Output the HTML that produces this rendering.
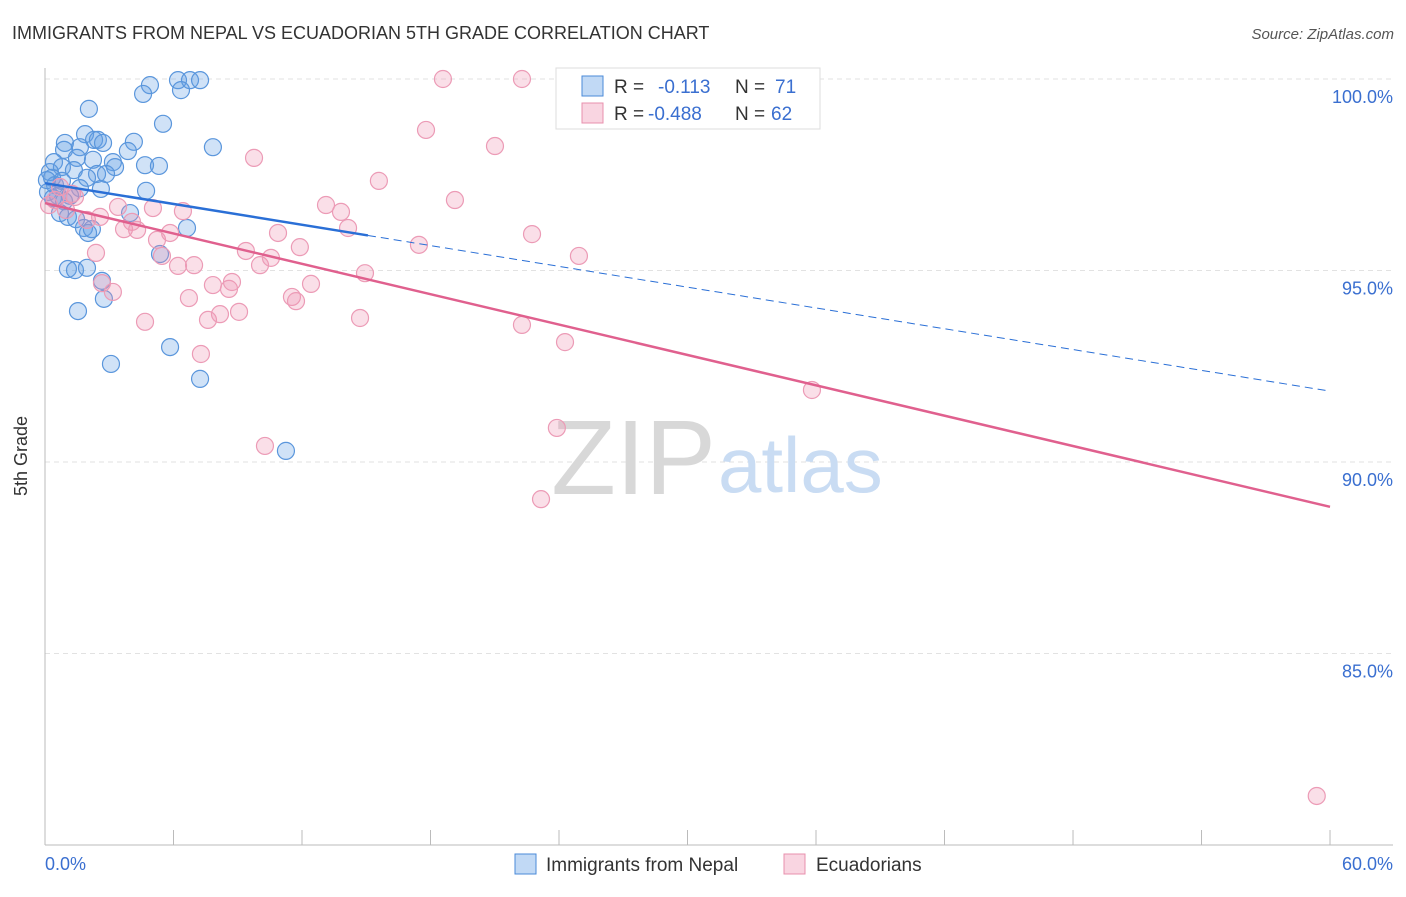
<!DOCTYPE html>
<html><head><meta charset="utf-8"><style>
body{margin:0;background:#fff;font-family:"Liberation Sans",sans-serif}
svg text{font-family:"Liberation Sans",sans-serif}
</style></head><body>
<svg id="chart" width="1406" height="892" viewBox="0 0 1406 892">
<text x="12" y="39" font-size="18" fill="#333">IMMIGRANTS FROM NEPAL VS ECUADORIAN 5TH GRADE CORRELATION CHART</text>
<text x="1394" y="39" font-size="15" fill="#555" font-style="italic" text-anchor="end">Source: ZipAtlas.com</text>
<g id="grid"></g>
<g id="ticks"></g>
<text x="716" y="494" font-size="106" fill="#d8d8d8" font-family="Liberation Serif" text-anchor="end">ZIP</text>
<text x="718" y="492" font-size="78" fill="#c9dcf3">atlas</text>
<line x1="45" y1="68" x2="45" y2="845" stroke="#bbb"/>
<line x1="45" y1="845" x2="1393" y2="845" stroke="#bbb"/>
<g id="xticks"></g>
<text x="27" y="456" font-size="18" fill="#333" text-anchor="middle" transform="rotate(-90 27 456)">5th Grade</text>
<text x="45" y="870" font-size="18" fill="#3a6fd0">0.0%</text>
<text x="1393" y="870" font-size="18" fill="#3a6fd0" text-anchor="end">60.0%</text>
<g id="pts"></g>
<g id="lines"></g>
<g>
<rect x="556" y="68" width="264" height="61" fill="#fff" stroke="#ddd"/>
<rect x="582" y="76" width="21" height="20" fill="rgba(100,160,230,0.4)" stroke="#4a8ad8"/>
<text x="614" y="93" font-size="19" fill="#333">R =</text>
<text x="658" y="93" font-size="19" fill="#3a6fd0">-0.113</text>
<text x="735" y="93" font-size="19" fill="#333">N =</text>
<text x="775" y="93" font-size="19" fill="#3a6fd0">71</text>
<rect x="582" y="103" width="21" height="20" fill="rgba(240,150,180,0.4)" stroke="#e890ad"/>
<text x="614" y="120" font-size="19" fill="#333">R =</text>
<text x="648" y="120" font-size="19" fill="#3a6fd0">-0.488</text>
<text x="735" y="120" font-size="19" fill="#333">N =</text>
<text x="771" y="120" font-size="19" fill="#3a6fd0">62</text>
</g>
<g>
<rect x="515" y="854" width="21" height="20" fill="rgba(100,160,230,0.4)" stroke="#4a8ad8"/>
<text x="546" y="871" font-size="19" fill="#333">Immigrants from Nepal</text></g>
<g>
<rect x="784" y="854" width="21" height="20" fill="rgba(240,150,180,0.4)" stroke="#e890ad"/>
<text x="816" y="871" font-size="19" fill="#333">Ecuadorians</text></g>
</svg>
<script>
const yTicks=[100,95,90,85];
const yTickLabels=["100.0%","95.0%","90.0%","85.0%"];
const xTicks=[0,6,12,18,24,30,36,42,48,54,60];
const nepalX=[4.90,4.58,6.21,6.77,7.24,6.35,2.05,5.51,7.84,0.93,1.87,2.29,2.47,2.71,4.15,1.63,0.89,3.87,0.42,1.49,2.24,3.17,4.67,5.32,3.27,0.79,1.35,0.23,2.43,2.85,1.96,0.33,0.47,1.63,2.61,4.72,0.14,0.61,1.17,0.37,0.89,0.70,1.07,1.45,3.97,1.82,2.01,2.19,6.63,5.37,1.07,1.40,1.96,2.66,2.75,1.54,3.08,5.84,7.24,11.25,0.79,0.09];
const nepalY=[99.84,99.61,99.97,99.97,99.97,99.71,99.22,98.83,98.22,98.33,98.56,98.41,98.41,98.33,98.36,98.22,98.15,98.12,97.83,97.94,97.89,97.83,97.75,97.73,97.70,97.70,97.62,97.57,97.52,97.52,97.42,97.42,97.23,97.15,97.13,97.08,97.05,96.95,96.95,96.89,96.81,96.50,96.40,96.34,96.50,96.11,95.98,96.08,96.11,95.43,95.04,95.01,95.07,94.73,94.26,93.94,92.56,93.00,92.17,90.29,97.34,97.36];
const ecuX=[18.58,22.27,17.79,21.01,9.76,15.59,19.14,13.12,13.82,14.15,22.74,10.88,11.90,17.46,24.93,9.38,6.44,5.04,3.41,4.06,3.69,4.30,5.23,5.84,5.46,6.21,6.96,2.38,2.66,3.17,6.72,7.84,8.59,8.73,10.04,10.55,11.53,11.72,12.42,14.94,7.61,8.17,9.06,4.67,7.28,14.71,22.27,24.28,35.81,23.90,10.27,23.16,59.38,0.70,0.47,1.26,0.98,1.96,0.19,1.40,2.57];
const ecuY=[100,100,98.67,98.25,97.94,97.34,96.84,96.71,96.53,96.11,95.95,95.98,95.61,95.67,95.38,95.51,96.55,96.63,96.66,96.27,96.08,96.06,95.80,95.98,95.38,95.12,95.14,95.46,94.67,94.44,94.28,94.62,94.52,94.70,95.14,95.33,94.31,94.20,94.65,94.93,93.71,93.86,93.92,93.66,92.82,93.76,93.58,93.13,91.88,90.89,90.42,89.03,81.28,97.18,96.84,97.00,96.58,96.32,96.71,96.92,96.40];
const nepalTrend=[97.28,91.85];
const ecuTrend=[96.76,88.83];
const nepalSolidEnd=15.08;
const NS="http://www.w3.org/2000/svg";
const sx=v=>45+v*21.417, sy=v=>79+(100-v)*38.3;
function mk(tag,attrs,parent){const e=document.createElementNS(NS,tag);for(const k in attrs)e.setAttribute(k,attrs[k]);parent.appendChild(e);return e;}
const grid=document.getElementById('grid'),ticks=document.getElementById('ticks');
yTicks.forEach((t,i)=>{
 const l=mk('line',{x1:45,x2:1393,y1:sy(t),y2:sy(t),stroke:'#e2e2e2','stroke-dasharray':'5,4'},grid);
 
 
 const tx=mk('text',{x:1393,y:sy(t)+24,'font-size':18,fill:'#3a6fd0','text-anchor':'end'},ticks);
 tx.textContent=yTickLabels[i];
 
 
});
const xt=document.getElementById('xticks');
xTicks.forEach(t=>{const l=mk('line',{x1:sx(t),x2:sx(t),y1:830,y2:845,stroke:'#bbb'},xt);
 
 });
const pts=document.getElementById('pts');
nepalX.forEach((x,i)=>{const c=mk('circle',{cx:sx(x),cy:sy(nepalY[i]),r:8.5,fill:'rgba(100,160,230,0.3)',stroke:'#5a96dc','stroke-width':1.2},pts);
 
 });
ecuX.forEach((x,i)=>{const c=mk('circle',{cx:sx(x),cy:sy(ecuY[i]),r:8.5,fill:'rgba(240,150,180,0.3)',stroke:'#ec9bb6','stroke-width':1.2},pts);
 
 });
const lines=document.getElementById('lines');
const ny=x=>nepalTrend[0]+(nepalTrend[1]-nepalTrend[0])*x/60;
let a=mk('line',{x1:sx(0),y1:sy(ny(0)),x2:sx(nepalSolidEnd),y2:sy(ny(nepalSolidEnd)),stroke:'#2a6fd6','stroke-width':2.5},lines);


let b=mk('line',{x1:sx(nepalSolidEnd),y1:sy(ny(nepalSolidEnd)),x2:sx(60),y2:sy(ny(60)),stroke:'#2a6fd6','stroke-width':1,'stroke-dasharray':'8,5'},lines);


let c=mk('line',{x1:sx(0),y1:sy(ecuTrend[0]),x2:sx(60),y2:sy(ecuTrend[1]),stroke:'#e0608e','stroke-width':2.5},lines);


</script>
</body></html>
